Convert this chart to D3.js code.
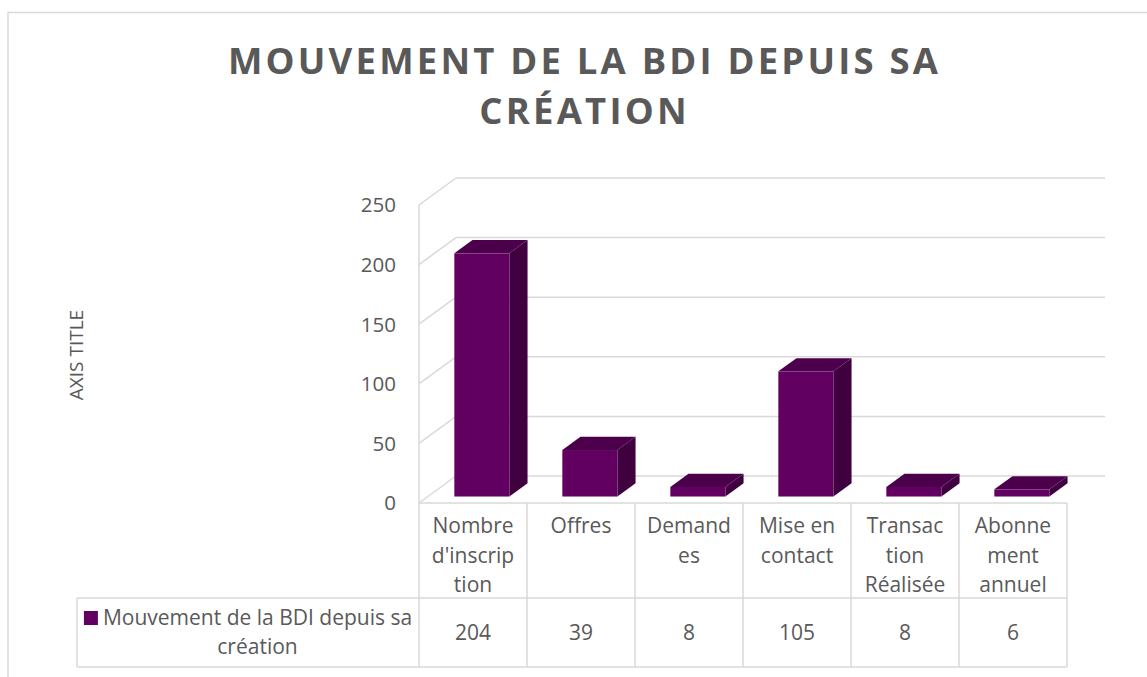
<!DOCTYPE html>
<html>
<head>
<meta charset="utf-8">
<script src="https://cdn.jsdelivr.net/npm/d3@7"></script>
<style>
  html, body { margin: 0; padding: 0; background: #fff; }
  svg { display: block; font-family: 'Open Sans', sans-serif; }
</style>
</head>
<body>
<div id="chart"></div>
<script>
// data
const titleLines = ['MOUVEMENT DE LA BDI DEPUIS SA', 'CRÉATION'];
const seriesName = 'Mouvement de la BDI depuis sa création';
const seriesNameLines = ['Mouvement de la BDI depuis sa', 'création'];
const categories = ['Nombre d\'inscription', 'Offres', 'Demandes', 'Mise en contact', 'Transaction Réalisée', 'Abonnement annuel'];
const categoryLines = [
  ['Nombre', 'd\'inscrip', 'tion'],
  ['Offres'],
  ['Demand', 'es'],
  ['Mise en', 'contact'],
  ['Transac', 'tion', 'Réalisée'],
  ['Abonne', 'ment', 'annuel'],
];
const values = [204, 39, 8, 105, 8, 6];
const yTicks = [0, 50, 100, 150, 200, 250];
const axisTitle = 'AXIS TITLE';

const width = 1147;
const height = 677;
const textColor = '#595959';
const gridColor = '#d9d9d9';
const barColors = { front: '#620062', top: '#4c004c', side: '#400040' };
const tableFont = 21;

// 3d look: depth offset of the back wall
const depth = { dx: 37, dy: 27 };
const barDepth = { z0: 0.24, z1: 0.73 };

const svg = d3.select('#chart')
  .append('svg')
  .attr('width', width)
  .attr('height', height);

// outer chart border (cropped on the right and bottom)
svg.append('rect')
  .attr('x', 8)
  .attr('y', 12.5)
  .attr('width', width + 20)
  .attr('height', height + 20)
  .attr('fill', 'none')
  .attr('stroke', gridColor)
  .attr('stroke-width', 1.5);

// title
const title = svg.append('g').attr('fill', textColor)
  .attr('font-weight', 700)
  .attr('font-size', 36.5)
  .attr('text-anchor', 'middle');

titleLines.forEach((line, i) => {
  title.append('text')
    .attr('x', 583)
    .attr('y', 74 + i * 50)
    .text(line);
});

// stretch the letters so the first line spans like the original
const firstTitle = title.select('text').node();
const natural = firstTitle.getComputedTextLength();
const spacing = (710 - natural) / (titleLines[0].length - 1);
title.selectAll('text')
  .attr('letter-spacing', spacing)
  .attr('dx', spacing / 2);

// scales
const x = d3.scaleBand()
  .domain(categories)
  .range([419, 1067]);

const y = d3.scaleLinear()
  .domain([0, 250])
  .range([503, 205]);

const px = (xv, z) => xv + z * depth.dx;
const py = (yv, z) => yv - z * depth.dy;

// walls and gridlines
const walls = svg.append('g')
  .attr('stroke', gridColor)
  .attr('stroke-width', 1.5)
  .attr('fill', 'none');

walls.selectAll('.back-grid')
  .data(yTicks)
  .join('line')
  .attr('class', 'back-grid')
  .attr('x1', px(x.range()[0], 1))
  .attr('x2', px(x.range()[1], 1) + 1)
  .attr('y1', d => py(y(d), 1))
  .attr('y2', d => py(y(d), 1));

walls.selectAll('.side-grid')
  .data(yTicks)
  .join('line')
  .attr('class', 'side-grid')
  .attr('x1', x.range()[0])
  .attr('x2', px(x.range()[0], 1))
  .attr('y1', d => y(d))
  .attr('y2', d => py(y(d), 1));

walls.append('line')
  .attr('x1', x.range()[0])
  .attr('x2', x.range()[0])
  .attr('y1', y(250))
  .attr('y2', y(0));

// y axis labels
svg.append('g')
  .attr('fill', textColor)
  .attr('font-size', 20.5)
  .attr('text-anchor', 'end')
  .selectAll('text')
  .data(yTicks)
  .join('text')
  .attr('x', 396)
  .attr('y', d => y(d))
  .attr('dy', '0.36em')
  .text(d => d);

svg.append('text')
  .attr('transform', 'translate(83, 355) rotate(-90)')
  .attr('fill', textColor)
  .attr('font-size', 19)
  .attr('text-anchor', 'middle')
  .text(axisTitle);

// bars
const barWidth = x.bandwidth() * 0.51;
const bars = svg.append('g')
  .selectAll('g')
  .data(values.map((v, i) => ({ category: categories[i], value: v })))
  .join('g');

bars.each(function (d) {
  const g = d3.select(this);
  const cx = x(d.category) + x.bandwidth() / 2;
  const xl = px(cx - barWidth / 2, barDepth.z0);
  const xr = px(cx + barWidth / 2, barDepth.z0);
  const yb = py(y(0), barDepth.z0);
  const yt = py(y(d.value), barDepth.z0);
  const ddx = (barDepth.z1 - barDepth.z0) * depth.dx;
  const ddy = (barDepth.z1 - barDepth.z0) * depth.dy;

  g.append('path')
    .attr('fill', barColors.side)
    .attr('d', `M${xr},${yb}L${xr},${yt}L${xr + ddx},${yt - ddy}L${xr + ddx},${yb - ddy}Z`);

  g.append('path')
    .attr('fill', barColors.top)
    .attr('d', `M${xl},${yt}L${xr},${yt}L${xr + ddx},${yt - ddy}L${xl + ddx},${yt - ddy}Z`);

  g.append('rect')
    .attr('fill', barColors.front)
    .attr('x', xl)
    .attr('y', yt)
    .attr('width', xr - xl)
    .attr('height', yb - yt);
});

// data table
const tableTop = 503;
const rowSplit = 598;
const tableBottom = 667;
const legendLeft = 77;

const table = svg.append('g')
  .attr('stroke', gridColor)
  .attr('stroke-width', 1.5);

table.append('line')
  .attr('x1', x.range()[0]).attr('x2', x.range()[1])
  .attr('y1', tableTop).attr('y2', tableTop);

[rowSplit, tableBottom].forEach(yy => {
  table.append('line')
    .attr('x1', legendLeft).attr('x2', x.range()[1])
    .attr('y1', yy).attr('y2', yy);
});

table.append('line')
  .attr('x1', legendLeft).attr('x2', legendLeft)
  .attr('y1', rowSplit).attr('y2', tableBottom);

table.selectAll('.col')
  .data(categories.map(c => x(c)).concat(x.range()[1]))
  .join('line')
  .attr('class', 'col')
  .attr('x1', d => d).attr('x2', d => d)
  .attr('y1', tableTop).attr('y2', tableBottom);

// header labels
const header = svg.append('g')
  .attr('fill', textColor)
  .attr('font-size', tableFont)
  .attr('text-anchor', 'middle');

categories.forEach((c, i) => {
  const t = header.append('text')
    .attr('x', x(c) + x.bandwidth() / 2)
    .attr('y', 533);
  categoryLines[i].forEach((line, j) => {
    t.append('tspan')
      .attr('x', x(c) + x.bandwidth() / 2)
      .attr('dy', j === 0 ? 0 : 29.5)
      .text(line);
  });
});

// values row
svg.append('g')
  .attr('fill', textColor)
  .attr('font-size', tableFont)
  .attr('text-anchor', 'middle')
  .selectAll('text')
  .data(values)
  .join('text')
  .attr('x', (d, i) => x(categories[i]) + x.bandwidth() / 2)
  .attr('y', 640)
  .text(d => d);

// legend key cell
const keySize = 14;
const keyGap = 5;
const legendCenter = (legendLeft + x.range()[0]) / 2 + (keySize + keyGap) / 2;
const legend = svg.append('g')
  .attr('fill', textColor)
  .attr('font-size', tableFont)
  .attr('text-anchor', 'middle');

legend.append('title').text(seriesName);

const legendText = legend.append('text')
  .attr('x', legendCenter)
  .attr('y', 625);
seriesNameLines.forEach((line, j) => {
  legendText.append('tspan')
    .attr('x', legendCenter)
    .attr('dy', j === 0 ? 0 : 29)
    .text(line);
});

const firstLine = legendText.select('tspan').node();
const lineW = firstLine.getComputedTextLength();
legend.append('rect')
  .attr('x', legendCenter - lineW / 2 - keyGap - keySize)
  .attr('y', 611)
  .attr('width', keySize)
  .attr('height', keySize)
  .attr('fill', barColors.front);
</script>
</body>
</html>
